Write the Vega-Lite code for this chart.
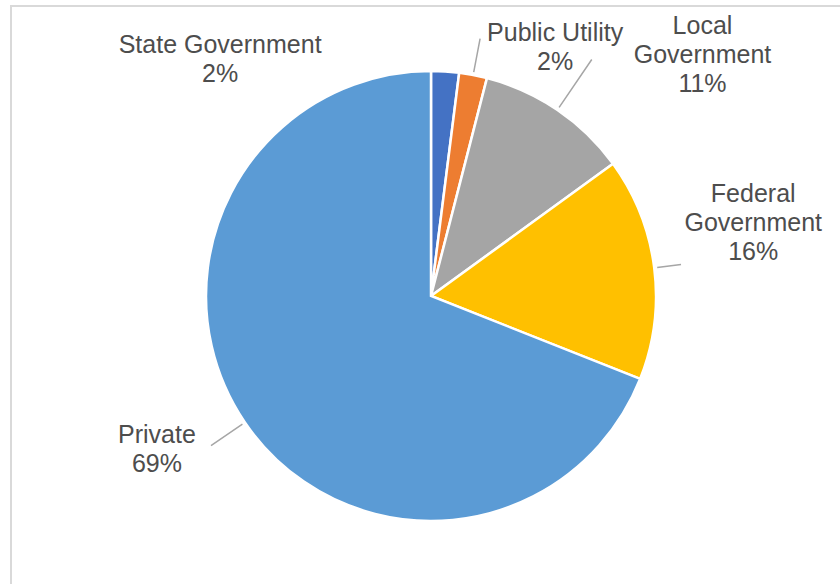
{
  "$schema": "https://vega.github.io/schema/vega-lite/v6.json",
  "autosize": "none",
  "padding": {"left": 11, "top": 6, "right": 0, "bottom": 0},
  "width": 840,
  "height": 580,
  "background": "white",
  "view": {"stroke": "#d9d9d9", "strokeWidth": 2},
  "config": {
    "text": {"font": "Liberation Sans", "fontSize": 25, "fill": "#4d4d4d", "lineHeight": 29, "align": "center", "baseline": "middle", "lineBreak": "\n"}
  },
  "data": {
    "values": [
      {"sector": "State Government", "value": 2, "idx": 1},
      {"sector": "Public Utility", "value": 2, "idx": 2},
      {"sector": "Local Government", "value": 11, "idx": 3},
      {"sector": "Federal Government", "value": 16, "idx": 4},
      {"sector": "Private", "value": 69, "idx": 5}
    ]
  },
  "transform": [
    {"window": [{"op": "sum", "field": "value", "as": "cum"}], "sort": [{"field": "idx"}], "frame": [null, 0]},
    {"calculate": "datum.cum - datum.value / 2", "as": "mid"}
  ],
  "layer": [
    {
      "mark": {"type": "arc", "radius": 225, "stroke": "white", "strokeWidth": 2.5},
      "encoding": {
        "theta": {"field": "value", "type": "quantitative", "stack": true, "scale": {"domain": [0, 100]}},
        "order": {"field": "idx", "type": "quantitative"},
        "color": {
          "field": "sector", "type": "nominal", "legend": null,
          "scale": {
            "domain": ["State Government", "Public Utility", "Local Government", "Federal Government", "Private"],
            "range": ["#4472C4", "#ED7D31", "#A5A5A5", "#FFC000", "#5B9BD5"]
          }
        }
      }
    },
    {
      "transform": [
        {"filter": "datum.sector === 'State Government'"},
        {"calculate": "datum.sector + '\\n' + datum.value + '%'", "as": "label"}
      ],
      "mark": {"type": "text", "radius": 225, "dx": -225, "dy": -26},
      "encoding": {
        "theta": {"field": "mid", "type": "quantitative", "scale": {"domain": [0, 100]}},
        "text": {"field": "label"}
      }
    },
    {
      "transform": [
        {"filter": "datum.sector === 'Public Utility'"},
        {"calculate": "datum.sector + '\\n' + datum.value + '%'", "as": "label"}
      ],
      "layer": [
        {
          "mark": {"type": "arc", "radius": 262, "radius2": 228, "stroke": "#a6a6a6", "strokeWidth": 1.5, "fillOpacity": 0},
          "encoding": {
            "theta": {"field": "mid", "type": "quantitative", "stack": null, "scale": {"domain": [0, 100]}},
            "theta2": {"field": "mid"}
          }
        },
        {
          "mark": {"type": "text", "radius": 225, "dx": 82, "dy": -42},
          "encoding": {
            "theta": {"field": "mid", "type": "quantitative", "scale": {"domain": [0, 100]}},
            "text": {"field": "label"}
          }
        }
      ]
    },
    {
      "transform": [
        {"filter": "datum.sector === 'Local Government'"},
        {"calculate": "replace(datum.sector, ' ', '\\n') + '\\n' + datum.value + '%'", "as": "label"}
      ],
      "layer": [
        {
          "mark": {"type": "arc", "radius": 286, "radius2": 228, "stroke": "#a6a6a6", "strokeWidth": 1.5, "fillOpacity": 0},
          "encoding": {
            "theta": {"field": "mid", "type": "quantitative", "stack": null, "scale": {"domain": [0, 100]}},
            "theta2": {"field": "mid"}
          }
        },
        {
          "mark": {"type": "text", "radius": 225, "dx": 145, "dy": -84},
          "encoding": {
            "theta": {"field": "mid", "type": "quantitative", "scale": {"domain": [0, 100]}},
            "text": {"field": "label"}
          }
        }
      ]
    },
    {
      "transform": [
        {"filter": "datum.sector === 'Federal Government'"},
        {"calculate": "replace(datum.sector, ' ', '\\n') + '\\n' + datum.value + '%'", "as": "label"}
      ],
      "layer": [
        {
          "mark": {"type": "arc", "radius": 252, "radius2": 228, "stroke": "#a6a6a6", "strokeWidth": 1.5, "fillOpacity": 0},
          "encoding": {
            "theta": {"field": "mid", "type": "quantitative", "stack": null, "scale": {"domain": [0, 100]}},
            "theta2": {"field": "mid"}
          }
        },
        {
          "mark": {"type": "text", "radius": 225, "dx": 99, "dy": -74},
          "encoding": {
            "theta": {"field": "mid", "type": "quantitative", "scale": {"domain": [0, 100]}},
            "text": {"field": "label"}
          }
        }
      ]
    },
    {
      "transform": [
        {"filter": "datum.sector === 'Private'"},
        {"calculate": "datum.sector + '\\n' + datum.value + '%'", "as": "label"}
      ],
      "layer": [
        {
          "mark": {"type": "arc", "radius": 266, "radius2": 228, "stroke": "#a6a6a6", "strokeWidth": 1.5, "fillOpacity": 0},
          "encoding": {
            "theta": {"field": "mid", "type": "quantitative", "stack": null, "scale": {"domain": [0, 100]}},
            "theta2": {"field": "mid"}
          }
        },
        {
          "mark": {"type": "text", "radius": 225, "dx": -88, "dy": 13},
          "encoding": {
            "theta": {"field": "mid", "type": "quantitative", "scale": {"domain": [0, 100]}},
            "text": {"field": "label"}
          }
        }
      ]
    }
  ]
}
